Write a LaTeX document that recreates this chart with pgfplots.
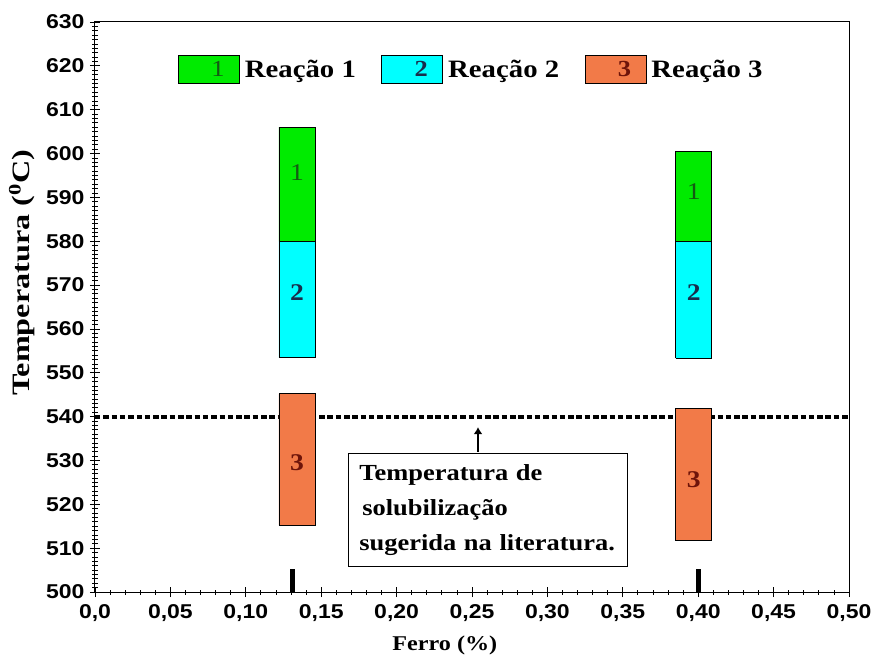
\documentclass[border=0pt]{standalone}
\usepackage{fontspec}
\setmainfont{Liberation Serif}[FakeStretch=1.15]
\setsansfont{Liberation Sans}[FakeStretch=1.15]
\usepackage{graphicx}
\usepackage{pgfplots}
\pgfplotsset{compat=1.18}
\usetikzlibrary{arrows.meta}
\definecolor{cgreen}{RGB}{0,235,0}
\definecolor{ccyan}{RGB}{0,255,255}
\definecolor{corange}{RGB}{242,122,72}
\definecolor{dgreen}{RGB}{20,90,20}
\definecolor{dnavy}{RGB}{25,45,75}
\definecolor{dred}{RGB}{110,20,10}
\begin{document}
\begin{tikzpicture}
\begin{axis}[
  scale only axis, width=754pt, height=570pt,
  xmin=0, xmax=0.5, ymin=500, ymax=630,
  xtick={0,0.05,0.1,0.15,0.2,0.25,0.3,0.35,0.4,0.45,0.5},
  xticklabels={{0,0},{0,05},{0,10},{0,15},{0,20},{0,25},{0,30},{0,35},{0,40},{0,45},{0,50}},
  ytick={500,510,520,530,540,550,560,570,580,590,600,610,620,630},
  yticklabels={500,510,520,530,540,550,560,570,580,590,600,610,620,630},
  minor x tick num=4, minor y tick num=9,
  tick pos=left, tick align=center,
  major tick length=10pt, minor tick length=5pt,
  tick style={black, line width=0.8pt},
  axis line style={black, line width=1pt},
  tick label style={font=\sffamily\bfseries\fontsize{20}{20}\selectfont},
  xticklabel style={yshift=-4pt},
  yticklabel style={xshift=-2pt},
  xlabel={Ferro (\%)},
  ylabel={\scalebox{1.12}[1]{Temperatura (\textsuperscript{0}C)}},
  xlabel style={at={(axis description cs:0.464,0)}, anchor=north, yshift=-44pt, inner sep=0pt, font=\bfseries\fontsize{21}{22}\selectfont},
  ylabel style={at={(axis description cs:-0.097,0.56)}, anchor=center, inner sep=0pt, font=\bfseries\fontsize{25}{26}\selectfont},
  legend columns=3,
  legend style={at={(axis cs:0.055,619.2)}, anchor=west, draw=none, fill=none, inner sep=0pt,
    font=\bfseries\fontsize{25}{26}\selectfont,
    /tikz/every odd column/.append style={column sep=3pt},
    /tikz/every even column/.append style={column sep=23.5pt}},
  legend cell align=left,
]
\coordinate (SW) at (axis description cs:0,0);
\coordinate (NE) at (axis description cs:1,1);
% literature temperature
\addplot[black, line width=3.8pt, dash pattern=on 5.5pt off 2.8pt, forget plot] coordinates {(0,540) (0.5,540)};
% sample marks
\addplot[black, line width=5pt, forget plot] coordinates {(0.131,500) (0.131,505.3)};
\addplot[black, line width=5pt, forget plot] coordinates {(0.4005,500) (0.4005,505.3)};
% Reacao 1
\addplot[fill=cgreen, draw=black, line width=0.8pt,
  legend image code/.code={\draw[fill=cgreen,draw=black,line width=0.8pt] (0pt,-14pt) rectangle (61pt,14pt);
    \node[text=dgreen, font=\mdseries\fontsize{23}{23}\selectfont] at (30.5pt,0pt) {1};}]
  coordinates {(0.122,580) (0.146,580) (0.146,606) (0.122,606) (0.122,580)};
\addlegendentry{Reação 1}
\addplot[fill=cgreen, draw=black, line width=0.8pt, forget plot]
  coordinates {(0.385,580) (0.409,580) (0.409,600.5) (0.385,600.5) (0.385,580)};
% Reacao 2
\addplot[fill=ccyan, draw=black, line width=0.8pt,
  legend image code/.code={\draw[fill=ccyan,draw=black,line width=0.8pt] (0pt,-14pt) rectangle (61pt,14pt);
    \node[text=dnavy, font=\bfseries\fontsize{23}{23}\selectfont] at (30.5pt,0pt) {2};}]
  coordinates {(0.122,553.5) (0.146,553.5) (0.146,580) (0.122,580) (0.122,553.5)};
\addlegendentry{Reação 2}
\addplot[fill=ccyan, draw=black, line width=0.8pt, forget plot]
  coordinates {(0.385,553.3) (0.409,553.3) (0.409,580) (0.385,580) (0.385,553.3)};
% Reacao 3
\addplot[fill=corange, draw=black, line width=0.8pt,
  legend image code/.code={\draw[fill=corange,draw=black,line width=0.8pt] (0pt,-14pt) rectangle (61pt,14pt);
    \node[text=dred, font=\bfseries\fontsize{23}{23}\selectfont] at (30.5pt,0pt) {3};}]
  coordinates {(0.122,515.3) (0.146,515.3) (0.146,545.2) (0.122,545.2) (0.122,515.3)};
\addlegendentry{Reação 3}
\addplot[fill=corange, draw=black, line width=0.8pt, forget plot]
  coordinates {(0.385,511.7) (0.409,511.7) (0.409,541.8) (0.385,541.8) (0.385,511.7)};
% arrow
\addplot[black, line width=2.4pt, -{Latex[length=7pt,width=9pt]}, forget plot] coordinates {(0.254,532) (0.254,537.6)};
% bar labels
\node[text=dgreen, font=\fontsize{24}{24}\selectfont] at (axis cs:0.134,595.7) {1};
\node[text=dnavy, font=\bfseries\fontsize{24}{24}\selectfont] at (axis cs:0.134,568.3) {2};
\node[text=dred, font=\bfseries\fontsize{24}{24}\selectfont] at (axis cs:0.134,529.5) {3};
\node[text=dgreen, font=\fontsize{24}{24}\selectfont] at (axis cs:0.397,591.4) {1};
\node[text=dnavy, font=\bfseries\fontsize{24}{24}\selectfont] at (axis cs:0.397,568.3) {2};
\node[text=dred, font=\bfseries\fontsize{24}{24}\selectfont] at (axis cs:0.397,525.6) {3};
% annotation box
\node[draw=black, line width=1pt, fill=white, anchor=north west, minimum width=279pt, minimum height=113pt,
  text width=258pt, inner xsep=10pt, inner ysep=5pt, align=left,
  font=\bfseries\fontsize{23}{35}\selectfont]
  at (axis cs:0.168,531.8) {Temperatura de\\\hspace*{3pt}solubilização\\sugerida na literatura.};
\end{axis}
\pgfresetboundingbox
\path[use as bounding box] ([shift={(-95pt,-73pt)}]SW) rectangle ([shift={(22pt,22pt)}]NE);
\end{tikzpicture}
\end{document}
